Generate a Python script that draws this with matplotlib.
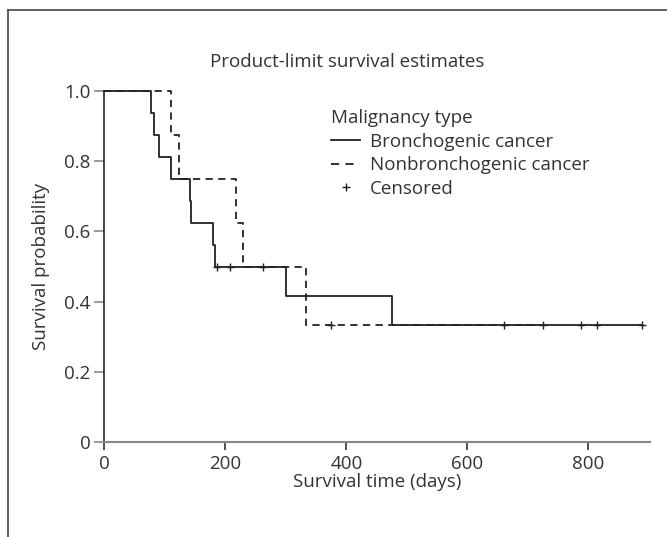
import matplotlib
matplotlib.use("Agg")
import matplotlib.pyplot as plt
from matplotlib.lines import Line2D

# ---- data ----
bron_times = [0, 76.6, 82.6, 89.8, 111, 141, 144, 180, 183, 299.6, 475.7]
bron_surv = [1.0, 0.9375, 0.875, 0.8125, 0.75, 0.6875, 0.625, 0.5625, 0.5, 0.4167, 0.3333]
bron_end = 888
bron_cens_t = [186, 207, 660, 788, 815, 888]
bron_cens_s = [0.5, 0.5, 0.3333, 0.3333, 0.3333, 0.3333]

nonb_times = [0, 111, 124, 217, 229, 333]
nonb_surv = [1.0, 0.875, 0.75, 0.625, 0.5, 0.3333]
nonb_end = 725
nonb_cens_t = [262.6, 375, 725]
nonb_cens_s = [0.5, 0.3333, 0.3333]

xticks = [0, 200, 400, 600, 800]
yticks = [0, 0.2, 0.4, 0.6, 0.8, 1.0]
yticklabels = ["0", "0.2", "0.4", "0.6", "0.8", "1.0"]

plt.rcParams['font.family'] = ['Open Sans', 'DejaVu Sans']
txt = '#333333'
FS = 13.5

W, H = 667, 537
fig = plt.figure(figsize=(W / 100, H / 100), dpi=100)
ax = fig.add_axes([104.3 / W, 94.7 / H, (650 - 104.3) / W, (442.3 - 90.7) / H])

line_col = '#222222'
ax.step(bron_times + [bron_end], bron_surv + [bron_surv[-1]], where='post',
        color=line_col, lw=1.3, clip_on=False)
ax.step(nonb_times + [nonb_end], nonb_surv + [nonb_surv[-1]], where='post',
        color=line_col, lw=1.3, ls=(0, (4, 3)), clip_on=False)
ax.plot(bron_cens_t, bron_cens_s, ls='none', marker='+', ms=6, mew=1.0,
        color=line_col, clip_on=False)
ax.plot(nonb_cens_t, nonb_cens_s, ls='none', marker='+', ms=6, mew=1.0,
        color=line_col, clip_on=False)

ax.set_xlim(0, 902)
ax.set_ylim(0, 1.0)
ax.set_xticks(xticks)
ax.set_xticklabels([str(v) for v in xticks])
ax.set_yticks(yticks)
ax.set_yticklabels(yticklabels)
for s in ['top', 'right']:
    ax.spines[s].set_visible(False)
ax.spines['left'].set_color('#222222')
ax.spines['left'].set_linewidth(1.2)
ax.spines['bottom'].set_color('#888888')
ax.spines['bottom'].set_linewidth(1.5)
ax.tick_params(axis='x', direction='out', length=6, width=1.2, color='#333333',
               labelsize=FS, labelcolor=txt, pad=3)
ax.tick_params(axis='y', direction='out', length=7, width=1.2, color='#888888',
               labelsize=FS, labelcolor=txt, pad=3)

ax.set_xlabel('Survival time (days)', fontsize=FS, color=txt, labelpad=0)
ax.set_ylabel('Survival probability', fontsize=FS, color=txt, labelpad=10)

fig.text(347 / W, 1 - 62 / H, 'Product-limit survival estimates', ha='center',
         va='center', fontsize=FS, color=txt)

handles = [Line2D([], [], color=line_col, lw=1.3),
           Line2D([], [], color=line_col, lw=1.3, ls=(0, (4.5, 3.5))),
           Line2D([], [], color=line_col, ls='none', marker='+', ms=6, mew=1.0)]
labels = ['Bronchogenic cancer', 'Nonbronchogenic cancer', 'Censored']
leg = ax.legend(handles, labels, title='Malignancy type', loc='upper left',
                bbox_to_anchor=(331 / W, 1 - 109 / H), bbox_transform=fig.transFigure,
                frameon=False, fontsize=FS, title_fontsize=FS,
                handlelength=1.55, handletextpad=0.53, labelspacing=0.3,
                borderaxespad=0, borderpad=0)
leg._legend_box.align = 'left'
for t in leg.get_texts():
    t.set_color(txt)
leg.get_title().set_color(txt)

# outer frame
fig.add_artist(Line2D([8 / W, 1.0], [1 - 10 / H, 1 - 10 / H], transform=fig.transFigure,
                      color='#444444', lw=1.2))
fig.add_artist(Line2D([8 / W, 8 / W], [1 - 10 / H, 0], transform=fig.transFigure,
                      color='#444444', lw=1.2))

fig.savefig('out.png', dpi=100)
